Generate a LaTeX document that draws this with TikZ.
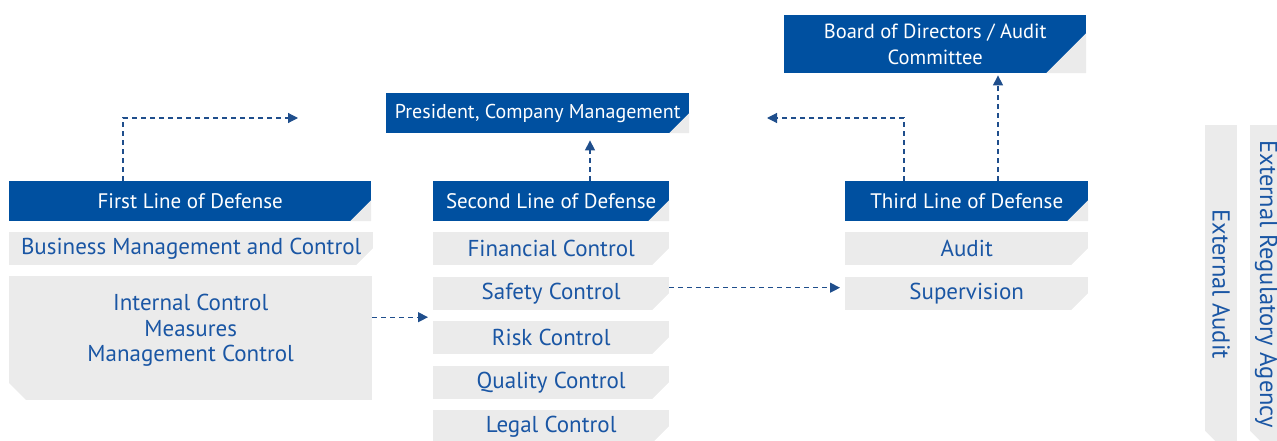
\documentclass[tikz,border=0pt]{standalone}
\usepackage{fontspec}
\setmainfont{PT Sans}
\usetikzlibrary{arrows.meta}
\definecolor{hdblue}{HTML}{0050A0}
\definecolor{txtblue}{HTML}{1A56A4}
\definecolor{boxgray}{HTML}{EBEBEB}
\definecolor{arrblue}{HTML}{1F4E8C}
\tikzset{
  % blue header, gray corner cut at bottom right
  headbox/.style={fill=hdblue, text=white, anchor=north west, inner sep=0pt,
    font=\fontsize{21}{25}\selectfont, align=center,
    path picture={\fill[boxgray] ([yshift=#1]path picture bounding box.south east)
      -- (path picture bounding box.south east)
      -- ([xshift=-#1]path picture bounding box.south east) -- cycle;}},
  headbox/.default=21pt,
  % gray item, white corner cut at bottom right
  itembox/.style={fill=boxgray, text=txtblue, anchor=north west, inner sep=0pt,
    font=\fontsize{23}{25.5}\selectfont, align=center,
    path picture={\fill[white] ([yshift=#1]path picture bounding box.south east)
      -- (path picture bounding box.south east)
      -- ([xshift=-#1]path picture bounding box.south east) -- cycle;}},
  itembox/.default=17pt,
  % gray item, white corner cut at bottom left
  leftbox/.style={fill=boxgray, text=txtblue, anchor=north west, inner sep=0pt,
    font=\fontsize{23}{25.5}\selectfont, align=center,
    path picture={\fill[white] ([yshift=#1]path picture bounding box.south west)
      -- (path picture bounding box.south west)
      -- ([xshift=#1]path picture bounding box.south west) -- cycle;}},
  leftbox/.default=17pt,
  link/.style={draw=arrblue, line width=1.2pt, dash pattern=on 5pt off 4pt,
    -{Triangle[length=10pt,width=10pt]}}
}
\begin{document}
\begin{tikzpicture}[x=1pt, y=-1pt]
    \useasboundingbox (0,0) rectangle (1277,441);

    % First line
    \node (first) [headbox, minimum width=362, minimum height=40] at (9,181) {First Line of Defense};
    \node (business) [itembox, minimum width=364, minimum height=33] at (9,232) {Business Management and Control};
    \node (internal) [leftbox, minimum width=363, minimum height=124] at (9,276) {Internal Control\\Measures\\Management Control\\[-5pt]};

    % Second line
    \node (second) [headbox, minimum width=236, minimum height=40] at (433,181) {Second Line of Defense};
    \node (financial) [itembox, minimum width=236, minimum height=33] at (433,232) {Financial Control};
    \node (safety) [itembox, minimum width=236, minimum height=33] at (433,277) {Safety Control};
    \node (risk) [itembox, minimum width=236, minimum height=33] at (433,321) {Risk Control};
    \node (quality) [itembox, minimum width=236, minimum height=33] at (433,366) {Quality Control};
    \node (legal) [itembox, minimum width=236, minimum height=33] at (433,410) {Legal Control};

    % Management
    \node (president) [headbox=20pt, minimum width=303, minimum height=40, font=\fontsize{20}{24}\selectfont] at (386,93) {President, Company Management};
    \node (board) [headbox=40pt, minimum width=302, minimum height=58, font=\fontsize{20.5}{26}\selectfont] at (784,15) {Board of Directors / Audit\\Committee};

    % Third line
    \node (third) [headbox, minimum width=243, minimum height=40] at (845,181) {Third Line of Defense};
    \node (audit) [itembox, minimum width=243, minimum height=33] at (845,232) {Audit};
    \node (supervision) [itembox, minimum width=243, minimum height=33] at (845,277) {Supervision};

    % External
    \node (extaudit) [leftbox=12pt, minimum width=32, minimum height=318, font=\fontsize{24.5}{26}\selectfont] at (1205,125) {\rotatebox{-90}{External Audit}};
    \node (extagency) [leftbox=12pt, minimum width=32, minimum height=318, font=\fontsize{24.5}{26}\selectfont] at (1250,125) {\rotatebox{-90}{External Regulatory Agency}};

    % Connectors
    \coordinate (firstend) at (298,118);
    \coordinate (thirdend) at (767,118);
    \draw[link] ([xshift=114pt]first.north west) |- (firstend);
    \draw[link, shorten >=7pt] ([xshift=157pt]second.north west) -- ([xshift=157pt]second.north west |- president.south);
    \draw[link] ([xshift=59pt]third.north west) |- (thirdend);
    \draw[link, shorten >=2pt] ([xshift=153pt]third.north west) -- ([xshift=153pt]third.north west |- board.south);
    \draw[link, shorten >=5pt] ([yshift=21pt]internal.east) -- ([yshift=21pt]internal.east -| second.west);
    \draw[link, shorten >=5pt] ([yshift=6pt]safety.east) -- ([yshift=6pt]safety.east -| supervision.west);
\end{tikzpicture}
\end{document}
